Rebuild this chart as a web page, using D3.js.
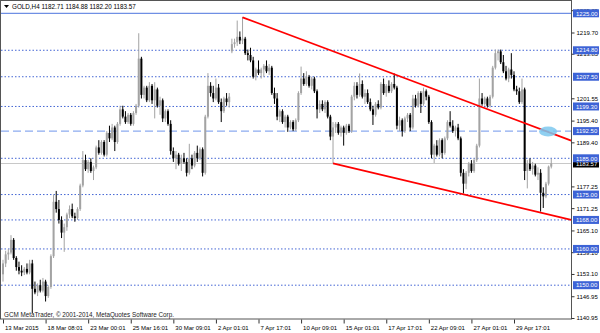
<!DOCTYPE html>
<html>
<head>
<meta charset="utf-8">
<script src="https://cdn.jsdelivr.net/npm/d3@7/dist/d3.min.js"></script>
<style>
  body { margin: 0; background: #fff; }
  text { font-family: "Liberation Sans", Arial, sans-serif; }
</style>
</head>
<body>
<div id="chart"></div>
<script>
// GOLD H4 candles (one entry per bar)
var opens = [1153,1156,1158.5,1159,1162.5,1157.5,1155,1154,1153.5,1154.5,1153.5,1156,1149,1148,1150,1148.5,1151,1147,1149.5,1158,
  1173,1171,1168,1164.5,1166,1169.5,1171,1169,1168.5,1171,1177.5,1184.5,1182,1184,1181.5,1182.5,1188,1186.5,1189.5,1186,
  1192,1190.5,1193.5,1189.5,1194.5,1198.5,1196.5,1195,1197,1194.5,1197.5,1199.5,1212.5,1202.5,1204.5,1201,1205,1201,1204,1199.5,
  1201,1196,1198,1194.5,1187,1185,1186,1183.5,1185,1184,1181,1185,1183,1186.5,1185,1187.5,1181,1196.5,1205,1203,
  1201.5,1204.5,1200.5,1198,1201.5,1200.5,1214.5,1216.5,1217,1218.5,1217.5,1218,1214,1213.5,1212,1207.5,1209.5,1208.5,1209.5,1210.5,
  1209,1210,1203,1201.5,1196.5,1198,1195,1196.5,1193.5,1195,1193,1195.5,1203,1207,1205.5,1207.5,1205,1207,1203.5,1198.5,
  1200,1198.5,1200.5,1196.5,1191,1193.5,1194.5,1192,1193.5,1192,1194,1192.5,1202,1205,1202.5,1205.5,1202,1203,1200.5,1198.5,
  1197,1200,1199,1205.5,1203,1205,1203.5,1205.5,1204.5,1194,1195.5,1192.5,1196,1197,1193.5,1201.5,1199.5,1203,1200,1203.5,
  1202,1195,1186,1188.5,1186,1190,1186.5,1190.5,1195,1194,1192.5,1193.5,1190.5,1181,1178,1181,1183.5,1181.5,1184.5,1188.5,
  1201.5,1200,1201.5,1199.5,1202,1210,1214,1214.5,1211.5,1209,1207,1209.5,1208,1204,1203.5,1200.5,1204,1181.5,1183.5,1182,
  1183,1180.5,1181,1175.5,1174.5,1178,1182.71];
var highs = [1157,1159.5,1160,1163.8,1163,1158,1156.5,1155.5,1155,1156,1157,1157,1151,1150.5,1151.5,1152,1151.5,1150,1158.5,1175,
  1176,1173.5,1169,1167,1170,1172,1172.5,1170,1171.5,1178,1187,1186,1184.5,1185,1183,1188.5,1190,1190,1190,1192.5,
  1194,1194.5,1194,1195,1199.5,1199.5,1198,1197.5,1197.5,1198,1200,1219.5,1213,1205,1205,1206,1205.5,1206,1204.5,1202,
  1201.5,1198.5,1198.5,1195.5,1188,1187,1186.5,1186,1186.5,1185,1189,1186,1187,1188.5,1188,1188,1197,1208.5,1206,1205,
  1207,1205.5,1201.5,1202,1203,1203,1218,1218,1223,1220,1224,1218.5,1215,1215.5,1213,1210,1212,1210,1211,1212,
  1211,1210.5,1204.5,1203,1198.5,1198.5,1197,1197,1195.5,1195.5,1196,1203.5,1210.3,1208.5,1209,1208,1207.5,1207.5,1204,1201,
  1201,1201,1201,1197,1195,1195,1195,1194,1194,1194.5,1194.5,1202.5,1206,1206,1208.4,1206.5,1204,1204,1201.5,1199.5,
  1200.5,1201,1206,1207,1205.5,1206.5,1206,1208.4,1205,1196.5,1196,1196.5,1197.5,1197.5,1202.5,1202.5,1203.5,1203.5,1204.5,1204,
  1202.5,1195.5,1189,1190,1190.5,1190.5,1191,1195.5,1198,1195.5,1194,1194.5,1191,1182,1181.5,1184,1184.5,1185,1189,1207,
  1203,1202,1202,1202.5,1210.5,1215,1215,1215,1213.5,1210.5,1210,1214,1209,1205,1204.5,1207,1204.5,1184.5,1185,1184,
  1183.5,1182.5,1182,1177,1178.5,1183,1184.88];
var lows = [1151,1155,1157,1158.5,1157,1154,1153,1152.5,1152.8,1153,1153,1142.3,1147.5,1147,1148,1148,1145.5,1146.5,1149,1157.5,
  1170,1167,1163,1159.2,1165,1168.5,1168.5,1167.5,1168,1170.5,1177,1181.5,1181,1181,1179,1182,1186,1186,1185.5,1185.5,
  1189.5,1190,1187,1189,1194,1196,1194.5,1194.5,1194,1194,1197,1199,1201.5,1201.5,1200.5,1200.5,1200,1196,1199,1197,
  1195,1195,1194,1186,1184,1182,1183,1181.5,1183.5,1180,1180.5,1182,1182.5,1184,1184.5,1180,1180.5,1196,1202,1200.5,
  1201,1200,1195,1197.5,1199.5,1199,1214,1215.5,1216,1216.5,1216.5,1213.5,1212,1211.5,1207,1206.5,1208,1207,1207.5,1208.5,
  1208,1202.5,1200,1195.5,1195,1194.5,1193.5,1192.3,1193,1192.5,1192.5,1195,1202.5,1205,1205,1204.5,1204,1203,1196,1197.5,
  1198,1197.5,1196,1190,1183.6,1192,1191.5,1191,1188.5,1191.5,1192,1192,1201,1201.5,1202,1201.5,1200,1200,1198,1194.2,
  1196.5,1198.5,1198.5,1202.5,1202,1203,1203,1204,1193,1192.5,1191,1192,1195,1192.5,1193,1199,1199,1197.5,1199.5,1201,
  1194.5,1185,1183.7,1185.5,1185.5,1185,1186,1190,1193.5,1192,1191,1190,1180,1175.3,1176.5,1180,1181,1181,1184,1188,
  1199.5,1199.5,1199,1199,1201.5,1209.5,1212,1211,1208.5,1206.5,1206,1207,1203.5,1202.5,1200,1200,1179,1176.7,1181.5,1180.5,
  1180,1179,1170.3,1171.3,1174,1177.5,1182.2];
var closes = [1156,1158.5,1159,1162.5,1157.5,1155,1154,1153.5,1154.5,1153.5,1156,1149,1148,1150,1148.5,1151,1147,1149.5,1158,1173,
  1171,1168,1164.5,1166,1169.5,1171,1169,1168.5,1171,1177.5,1184.5,1182,1184,1181.5,1182.5,1188,1186.5,1189.5,1186,1192,
  1190.5,1193.5,1189.5,1194.5,1198.5,1196.5,1195,1197,1194.5,1197.5,1199.5,1212.5,1202.5,1204.5,1201,1205,1201,1204,1199.5,1201,
  1196,1198,1194.5,1187,1185,1186,1183.5,1185,1184,1181,1185,1183,1186.5,1185,1187.5,1181,1196.5,1205,1203,1201.5,
  1204.5,1200.5,1198,1201.5,1200.5,1202,1216.5,1217,1218.5,1217.5,1218,1214,1213.5,1212,1207.5,1209.5,1208.5,1209.5,1210.5,1209,
  1210,1203,1201.5,1196.5,1198,1195,1196.5,1193.5,1195,1193,1195.5,1203,1207,1205.5,1207.5,1205,1207,1203.5,1198.5,1200,
  1198.5,1200.5,1196.5,1191,1193.5,1194.5,1192,1193.5,1192,1194,1192.5,1202,1205,1202.5,1205.5,1202,1203,1200.5,1198.5,1197,
  1200,1199,1205.5,1203,1205,1203.5,1205.5,1204.5,1194,1195.5,1192.5,1196,1197,1193.5,1201.5,1199.5,1203,1200,1203.5,1202,
  1195,1186,1188.5,1186,1190,1186.5,1190.5,1195,1194,1192.5,1193.5,1190.5,1181,1178,1181,1183.5,1181.5,1184.5,1188.5,1201.5,
  1200,1201.5,1199.5,1202,1210,1214,1214.5,1211.5,1209,1207,1209.5,1208,1204,1203.5,1200.5,1204,1181.5,1183.5,1182,1183,
  1180.5,1181,1175.5,1174.5,1178,1182.71,1183.57];

// time axis labels, one every 16 bars
var timeLabels = ["13 Mar 2015","18 Mar 08:01","23 Mar 00:01","25 Mar 16:01","30 Mar 09:01","2 Apr 01:01","7 Apr 17:01",
  "10 Apr 09:01","15 Apr 01:01","17 Apr 17:01","22 Apr 09:01","27 Apr 01:01","29 Apr 17:01"];
var timeLabelBars = [0,16,32,48,64,80,96,112,128,144,160,176,192];

// price scale labels (some peek out from under the level boxes)
var priceTicks = [1225.85,1219.70,1213.85,1201.55,1195.40,1189.40,1177.25,1171.25,1165.10,1159.10,1153.10,1146.95,1140.95];

// horizontal levels
var dottedLevels = [1214.80,1207.50,1199.30,1185.00,1175.00,1168.00,1160.00,1150.00];
var solidLevel = 1225.00;
var dashedLevel = 1192.50;
var lastPrice = 1183.57;

// channel lines [bar, price]
var upperLine = [[90,1223.9],[213.5,1189.9]];
var lowerLine = [[124,1183.6],[213.5,1168.0]];
var marker = [204.8,1192.4];

var w = 600, h = 333;
var plotRight = 571, plotBottom = 319;

var dataset = opens.map(function(o,i){
    return {i:i, o:o, h:highs[i], l:lows[i], c:closes[i]};
});

var xScale = d3.scaleLinear().domain([0,192]).range([3,514]);
var yScale = d3.scaleLinear().domain([1140.95,1225]).range([318,13.3]);

var svg = d3.select("#chart").append("svg")
    .attr("width",w).attr("height",h);

svg.append("rect").attr("width",w).attr("height",h).attr("fill","#fff");

// levels
svg.selectAll(".lvl")
    .data(dottedLevels)
    .enter().append("line")
    .attr("x1",1).attr("x2",plotRight)
    .attr("y1",function(d){ return yScale(d); })
    .attr("y2",function(d){ return yScale(d); })
    .attr("stroke","#4466d4")
    .attr("stroke-width",1)
    .attr("stroke-dasharray","1.5,2");

svg.append("line")
    .attr("x1",1).attr("x2",plotRight)
    .attr("y1",yScale(solidLevel)).attr("y2",yScale(solidLevel))
    .attr("stroke","#6f8fe4").attr("stroke-width",1.2);

svg.append("line")
    .attr("x1",1).attr("x2",plotRight)
    .attr("y1",yScale(dashedLevel)).attr("y2",yScale(dashedLevel))
    .attr("stroke","#8cabf0").attr("stroke-width",1.4)
    .attr("stroke-dasharray","8,4");

// current price line
svg.append("line")
    .attr("x1",1).attr("x2",plotRight)
    .attr("y1",yScale(lastPrice)).attr("y2",yScale(lastPrice))
    .attr("stroke","#c8c8c8").attr("stroke-width",1);

// candles
var bull = "#a3a3a3", bear = "#000";
svg.selectAll(".wick")
    .data(dataset)
    .enter().append("line")
    .attr("x1",function(d){ return xScale(d.i); })
    .attr("x2",function(d){ return xScale(d.i); })
    .attr("y1",function(d){ return yScale(d.h); })
    .attr("y2",function(d){ return yScale(d.l); })
    .attr("stroke",function(d){ return d.c >= d.o ? bull : bear; })
    .attr("stroke-width",1);

svg.selectAll(".body")
    .data(dataset)
    .enter().append("rect")
    .attr("x",function(d){ return xScale(d.i) - 1; })
    .attr("width",2)
    .attr("y",function(d){ return yScale(Math.max(d.o,d.c)); })
    .attr("height",function(d){ return Math.max(1, Math.abs(yScale(d.o) - yScale(d.c))); })
    .attr("fill",function(d){ return d.c >= d.o ? bull : bear; });

// channel
var line = d3.line()
    .x(function(d){ return xScale(d[0]); })
    .y(function(d){ return yScale(d[1]); });

svg.append("path").datum(upperLine)
    .attr("d",line).attr("stroke","#ff0000").attr("stroke-width",1.8).attr("fill","none");
svg.append("path").datum(lowerLine)
    .attr("d",line).attr("stroke","#ff0000").attr("stroke-width",1.8).attr("fill","none");

svg.append("ellipse")
    .attr("cx",xScale(marker[0])).attr("cy",yScale(marker[1]))
    .attr("rx",9).attr("ry",5)
    .attr("fill","#7cc8ee").attr("opacity",0.85);

// frame
svg.append("rect")
    .attr("x",0.5).attr("y",0.5)
    .attr("width",plotRight).attr("height",plotBottom - 0.5)
    .attr("fill","none").attr("stroke","#555").attr("stroke-width",1);

// price axis
var yAxis = d3.axisRight(yScale)
    .tickValues(priceTicks)
    .tickSize(3)
    .tickPadding(2)
    .tickFormat(d3.format(".2f"));

var ya = svg.append("g")
    .attr("transform","translate(" + (plotRight + 0.5) + ",0)")
    .call(yAxis);
ya.select(".domain").remove();
ya.selectAll("text").attr("font-family","Liberation Sans, Arial, sans-serif").attr("font-size","6px").attr("fill","#000");
ya.selectAll("line").attr("stroke","#333");

// current price box sits under the level boxes
svg.append("rect")
    .attr("x",plotRight + 2).attr("width",26)
    .attr("y",yScale(lastPrice) - 4).attr("height",8)
    .attr("fill","#000");
svg.append("text")
    .attr("x",plotRight + 5).attr("y",yScale(lastPrice) + 2.2)
    .attr("font-size","6px").attr("fill","#fff")
    .text(d3.format(".2f")(lastPrice));

// boxed level labels
var boxed = dottedLevels.concat([solidLevel,dashedLevel]);
svg.selectAll(".lbox")
    .data(boxed)
    .enter().append("rect")
    .attr("x",plotRight + 2).attr("width",26)
    .attr("y",function(d){ return yScale(d) - 4; })
    .attr("height",8)
    .attr("fill","#3d63d6");
svg.selectAll(".ltxt")
    .data(boxed)
    .enter().append("text")
    .attr("x",plotRight + 5)
    .attr("y",function(d){ return yScale(d) + 2.2; })
    .attr("font-size","6px").attr("fill","#fff")
    .text(function(d){ return d3.format(".2f")(d); });

// time axis
var xAxis = d3.axisBottom(xScale)
    .tickValues(timeLabelBars)
    .tickSize(4)
    .tickPadding(2)
    .tickFormat(function(d,i){ return timeLabels[i]; });

var xa = svg.append("g")
    .attr("transform","translate(0," + (plotBottom + 0.5) + ")")
    .call(xAxis);
xa.select(".domain").remove();
xa.selectAll("line").attr("stroke","#333");
xa.selectAll("text")
    .attr("text-anchor","start")
    .attr("dx","1.5px")
    .attr("font-family","Liberation Sans, Arial, sans-serif")
    .attr("font-size","6px").attr("fill","#000");

// header
svg.append("path")
    .attr("d","M4,5 L9,5 L6.5,8 Z")
    .attr("fill","#000");
svg.append("text")
    .attr("x",12).attr("y",9)
    .attr("font-size","6.3px").attr("fill","#000")
    .text("GOLD,H4  1182.71 1184.88 1182.20 1183.57");

svg.append("text")
    .attr("x",4).attr("y",317)
    .attr("font-size","6.3px").attr("fill","#222")
    .text("GCM MetaTrader, \u00a9 2001-2014, MetaQuotes Software Corp.");
</script>
</body>
</html>
